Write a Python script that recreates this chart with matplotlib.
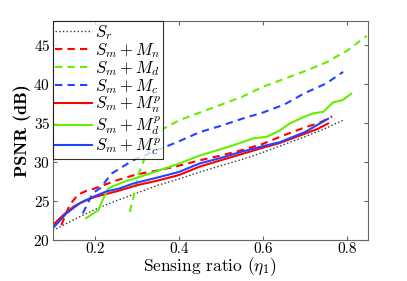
import matplotlib
matplotlib.use("Agg")
import matplotlib.pyplot as plt

# fonts: computer modern look like the latex figure
plt.rcParams['font.family'] = 'serif'
plt.rcParams['font.serif'] = ['cmr10']
plt.rcParams['mathtext.fontset'] = 'cm'
plt.rcParams['axes.formatter.use_mathtext'] = True

# data
x_sr = [0.1, 0.15, 0.2, 0.25, 0.3, 0.35, 0.4, 0.45, 0.5, 0.55, 0.6, 0.65, 0.7, 0.75, 0.79]
y_sr = [21.2, 22.6, 23.9, 25.0, 26.0, 27.0, 27.8, 28.7, 29.5, 30.3, 31.2, 32.2, 33.2, 34.3, 35.3]

x_mn = [0.12, 0.14, 0.16, 0.18, 0.2, 0.25, 0.3, 0.35, 0.4, 0.45, 0.5, 0.55, 0.6, 0.65, 0.7, 0.735, 0.765]
y_mn = [21.9, 24.5, 25.8, 26.3, 26.6, 27.6, 28.4, 28.9, 29.5, 30.2, 30.8, 31.5, 32.3, 33.4, 34.4, 35.0, 35.8]

x_md = [0.283, 0.291, 0.303, 0.323, 0.362, 0.4, 0.45, 0.5, 0.55, 0.6, 0.65, 0.7, 0.75, 0.8, 0.847]
y_md = [23.6, 25.3, 28.3, 31.1, 34.2, 35.3, 36.3, 37.3, 38.3, 39.6, 40.6, 41.6, 42.7, 44.2, 46.1]

x_mc = [0.171, 0.195, 0.212, 0.24, 0.291, 0.339, 0.395, 0.45, 0.5, 0.55, 0.6, 0.65, 0.7, 0.75, 0.791]
y_mc = [23.4, 26.0, 26.6, 28.5, 30.2, 31.3, 32.5, 33.8, 34.6, 35.5, 36.3, 37.3, 38.8, 40.0, 41.5]

x_mnp = [0.1, 0.125, 0.15, 0.175, 0.2, 0.25, 0.3, 0.35, 0.4, 0.45, 0.5, 0.55, 0.6, 0.64, 0.7, 0.73, 0.755]
y_mnp = [21.9, 23.2, 24.3, 25.0, 25.5, 26.2, 27.0, 27.6, 28.3, 29.4, 30.2, 31.0, 31.8, 32.4, 33.6, 34.2, 34.9]

x_mdp = [0.179, 0.208, 0.22, 0.232, 0.267, 0.331, 0.402, 0.45, 0.529, 0.577, 0.609, 0.64, 0.664, 0.696, 0.72, 0.744, 0.767, 0.79, 0.81]
y_mdp = [22.8, 23.8, 25.3, 26.6, 27.4, 28.5, 29.8, 30.8, 32.1, 33.0, 33.2, 34.0, 34.9, 35.7, 36.2, 36.4, 37.6, 37.9, 38.7]

x_mcp = [0.1, 0.132, 0.164, 0.195, 0.227, 0.259, 0.29, 0.35, 0.4, 0.45, 0.5, 0.55, 0.6, 0.64, 0.7, 0.755]
y_mcp = [21.5, 23.4, 24.7, 25.5, 26.2, 26.6, 27.2, 28.0, 28.7, 29.8, 30.5, 31.3, 32.0, 32.5, 33.8, 35.5]

fig = plt.figure(figsize=(4.07, 2.81), dpi=100)
ax = fig.add_axes([0.130, 0.146, 0.774, 0.779])

red = '#ff0000'
green = '#66ee00'
blue = '#2244ff'
dash = (0, (3.5, 2.5))

ax.plot(x_sr, y_sr, color='0.2', ls=':', lw=1.0, label=r'$S_r$')
ax.plot(x_mn, y_mn, color=red, ls=dash, lw=1.5, label=r'$S_m+M_n$')
ax.plot(x_md, y_md, color=green, ls=dash, lw=1.5, label=r'$S_m+M_d$')
ax.plot(x_mc, y_mc, color=blue, ls=dash, lw=1.5, label=r'$S_m+M_c$')
ax.plot(x_mnp, y_mnp, color=red, lw=1.5, label=r'$S_m+M_n^p$')
ax.plot(x_mdp, y_mdp, color=green, lw=1.5, label=r'$S_m+M_d^p$')
ax.plot(x_mcp, y_mcp, color=blue, lw=1.5, label=r'$S_m+M_c^p$')

ax.set_xlim(0.1, 0.85)
ax.set_ylim(20, 48)
ax.set_xticks([0.2, 0.4, 0.6, 0.8])
ax.set_xticklabels(['0.2', '0.4', '0.6', '0.8'])
ax.set_yticks([20, 25, 30, 35, 40, 45])
ax.tick_params(direction='in', top=True, right=True, labelsize=11, length=3, color='0.4', pad=2)
for s in ax.spines.values():
    s.set_color('0.4')

ax.set_xlabel(r'Sensing ratio ($\eta_1$)', fontsize=12.5, labelpad=-1)
ax.set_ylabel('PSNR (dB)', fontsize=13, family='cmb10', labelpad=2)

leg = ax.legend(loc='upper left', fontsize=12, handlelength=2.2, handletextpad=0.2,
                labelspacing=-0.05, borderaxespad=0, borderpad=0.12, fancybox=False)
leg.get_frame().set_edgecolor('black')
leg.get_frame().set_linewidth(0.8)

fig.savefig('out.png', dpi=100)
